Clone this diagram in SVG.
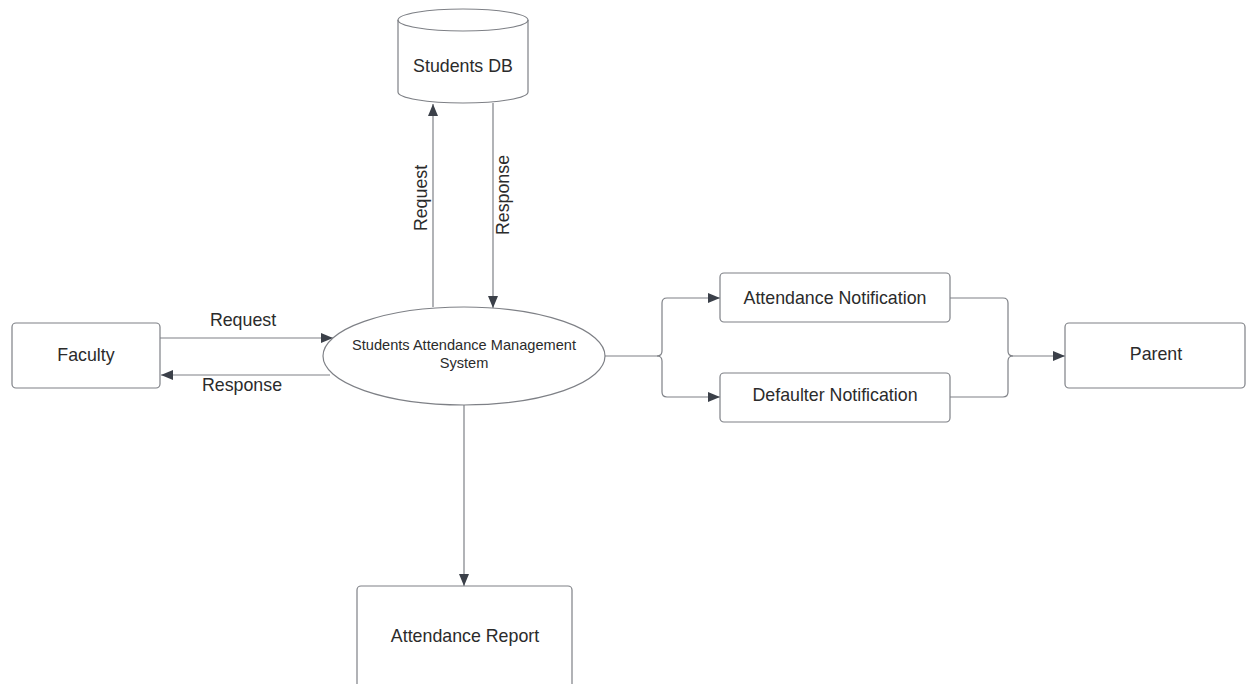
<svg xmlns="http://www.w3.org/2000/svg" width="1246" height="684" viewBox="0 0 1246 684">
  <defs>
    <marker id="arrow" viewBox="0 0 12 10" refX="12" refY="5" markerWidth="12" markerHeight="10" markerUnits="userSpaceOnUse" orient="auto">
      <path d="M0,0 L12,5 L0,10 Z" fill="#3b4049"/>
    </marker>
    <style>
      .shape { fill: #ffffff; stroke: #7e8086; stroke-width: 1.2; }
      .edge { fill: none; stroke: #7e8086; stroke-width: 1.2; }
      .label { font-family: "Liberation Sans", Arial, sans-serif; font-size: 17.8px; fill: #2b2b2b; text-anchor: middle; }
      .small { font-size: 14.6px; }
    </style>
  </defs>
  <rect width="1246" height="684" fill="#ffffff"/>

  <!-- connectors -->
  <g id="connectors">
    <!-- system <-> students DB -->
    <path class="edge" d="M433,307 L433,104" marker-end="url(#arrow)"/>
    <path class="edge" d="M493,103 L493,308" marker-end="url(#arrow)"/>
    <!-- faculty <-> system -->
    <path class="edge" d="M160,338 L333,338" marker-end="url(#arrow)"/>
    <path class="edge" d="M330,375 L161,375" marker-end="url(#arrow)"/>
    <!-- system -> report -->
    <path class="edge" d="M464,405 L464,586" marker-end="url(#arrow)"/>
    <!-- system -> notifications -->
    <path class="edge" d="M605,356 L657,356 Q662,356 662,351 L662,303 Q662,298 667,298 L720,298" marker-end="url(#arrow)"/>
    <path class="edge" d="M657,356 Q662,356 662,361 L662,392 Q662,397 667,397 L720,397" marker-end="url(#arrow)"/>
    <!-- notifications -> parent -->
    <path class="edge" d="M950,298 L1003,298 Q1008,298 1008,303 L1008,351 Q1008,356 1013,356 L1065,356" marker-end="url(#arrow)"/>
    <path class="edge" d="M950,397 L1003,397 Q1008,397 1008,392 L1008,361 Q1008,356 1013,356"/>
    <!-- connector labels -->
    <text class="label" x="243" y="326">Request</text>
    <text class="label" x="242" y="391">Response</text>
    <text class="label" transform="translate(427,198) rotate(-90)">Request</text>
    <text class="label" transform="translate(509,195) rotate(-90)">Response</text>
  </g>

  <!-- Students DB (data store cylinder) -->
  <g id="students-db">
    <path class="shape" d="M398,20 L398,92 A65,11 0 0 0 528,92 L528,20 A65,11 0 0 0 398,20 Z"/>
    <path class="edge" d="M398,20 A65,11 0 0 0 528,20"/>
    <text class="label" x="463" y="72">Students DB</text>
  </g>

  <!-- central process -->
  <g id="system">
    <ellipse class="shape" cx="464" cy="356" rx="141" ry="49"/>
    <text class="label small" x="464" y="350">Students Attendance Management</text>
    <text class="label small" x="464" y="368">System</text>
  </g>

  <g id="faculty">
    <rect class="shape" x="12" y="323" width="148" height="65" rx="4"/>
    <text class="label" x="86" y="361">Faculty</text>
  </g>

  <g id="attendance-notification">
    <rect class="shape" x="720" y="273" width="230" height="49" rx="4"/>
    <text class="label" x="835" y="304">Attendance Notification</text>
  </g>

  <g id="defaulter-notification">
    <rect class="shape" x="720" y="373" width="230" height="49" rx="4"/>
    <text class="label" x="835" y="401">Defaulter Notification</text>
  </g>

  <g id="parent">
    <rect class="shape" x="1065" y="323" width="180" height="65" rx="4"/>
    <text class="label" x="1156" y="360">Parent</text>
  </g>

  <g id="attendance-report">
    <rect class="shape" x="357" y="586" width="215" height="110" rx="4"/>
    <text class="label" x="465" y="642">Attendance Report</text>
  </g>
</svg>
